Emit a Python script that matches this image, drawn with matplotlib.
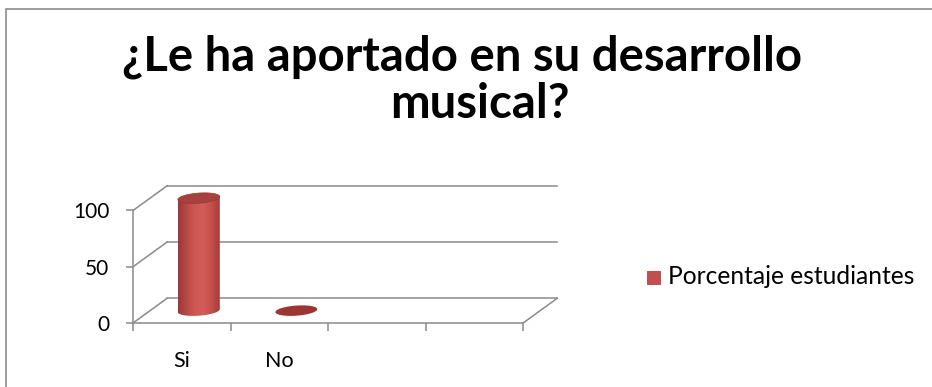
import numpy as np
import matplotlib
matplotlib.use("Agg")
import matplotlib.pyplot as plt
from matplotlib.patches import Polygon, Rectangle, PathPatch
from matplotlib.path import Path
from matplotlib.colors import LinearSegmentedColormap

# ---- data ----
categories = ["Si", "No", "", ""]
values = [100, 0, None, None]
series_name = "Porcentaje estudiantes"
yticks = [0, 50, 100]
title_lines = ["¿Le ha aportado en su desarrollo", "musical?"]

plt.rcParams["font.family"] = ["Lato", "DejaVu Sans"]

W, H = 932, 387
fig = plt.figure(figsize=(W / 100, H / 100), dpi=100)
fig.patch.set_facecolor("white")

# plot area: x 0..4 categories, y 0..100 plus room for the 3-D back wall
ax = fig.add_axes([133 / W, 64 / H, 434 / W, 146.25 / H])
ax.set_xlim(0, 4.45)
ax.set_ylim(0, 130)
ax.set_facecolor("none")

DX, DY = 0.35, 22.0          # depth offset of the back wall (data units)
grid_c = "#8a8a8a"
lw = 1.1

# back-wall gridlines and side-wall diagonals
n = len(categories)
for v in yticks:
    ax.plot([DX, n + DX], [v + DY, v + DY], color=grid_c, lw=lw, zorder=1)
    ax.plot([0, DX], [v, v + DY], color=grid_c, lw=lw, zorder=1)
ax.plot([n, n + DX], [0, DY], color=grid_c, lw=lw, zorder=1)

# axes styling
for s in ["top", "right"]:
    ax.spines[s].set_visible(False)
ax.spines["left"].set_bounds(0, max(yticks))
ax.spines["bottom"].set_bounds(0, n)
for s in ["left", "bottom"]:
    ax.spines[s].set_color(grid_c)
    ax.spines[s].set_linewidth(lw)

ax.set_yticks(yticks)
ax.set_yticklabels([str(t) for t in yticks], fontsize=15)
ax.tick_params(axis="y", length=5, width=lw, color=grid_c, pad=12)
ax.set_xticks(np.arange(n + 1))
ax.set_xticklabels([])
ax.tick_params(axis="x", which="major", length=6, width=lw, color=grid_c)
ax.set_xticks(np.arange(n) + 0.5, minor=True)
ax.set_xticklabels(categories, minor=True, fontsize=15.5)
ax.tick_params(axis="x", which="minor", length=0, pad=20)

# cylinders
body_cmap = LinearSegmentedColormap.from_list(
    "cyl", ["#98383a", "#b84845", "#cf5753", "#d25d59", "#c44f4b", "#a53c3a"])
cyl_w = 0.43
ell_h = 9.0
skew = 6.0      # slight tilt of the elliptical caps
base = DY / 2


def ellipse_pts(cx, cy, t):
    x = cx + cyl_w / 2 * np.cos(t)
    y = cy + ell_h / 2 * np.sin(t) + skew * (x - cx)
    return x, y


for i, v in enumerate(values):
    if v is None:
        continue
    cx = i + 0.5 + DX / 2
    top = base + v
    full = np.linspace(0, 2 * np.pi, 80)
    if v > 0:
        t = np.linspace(np.pi, 2 * np.pi, 40)
        bx, by = ellipse_pts(cx, base, t)
        tl = top - skew * cyl_w / 2
        tr = top + skew * cyl_w / 2
        verts = [(cx - cyl_w / 2, tl)] + list(zip(bx, by)) + [(cx + cyl_w / 2, tr), (cx - cyl_w / 2, tl)]
        codes = [Path.MOVETO] + [Path.LINETO] * (len(verts) - 2) + [Path.CLOSEPOLY]
        clip = PathPatch(Path(verts, codes), transform=ax.transData, fc="none", ec="none")
        ax.add_patch(clip)
        grad = np.linspace(0, 1, 128).reshape(1, -1)
        im = ax.imshow(grad, cmap=body_cmap, aspect="auto", interpolation="bilinear",
                       extent=(cx - cyl_w / 2, cx + cyl_w / 2, base - ell_h, top + ell_h), zorder=3)
        im.set_clip_path(clip)
        ex, ey = ellipse_pts(cx, top, full)
        ax.add_patch(Polygon(np.column_stack([ex, ey]), closed=True, fc="#a8403d",
                             ec="#9a3835", lw=0.5, zorder=4))
    else:
        ex, ey = ellipse_pts(cx, top, full)
        ax.add_patch(Polygon(np.column_stack([ex, ey]), closed=True, fc="#9c3533",
                             ec="none", zorder=4))

ax.set_xlim(0, 4.45)
ax.set_ylim(0, 130)

# title
fig.text(462 / W, 1 - 57 / H, title_lines[0], ha="center", va="center",
         fontsize=34, fontweight="bold")
fig.text(480 / W, 1 - 104 / H, title_lines[1], ha="center", va="center",
         fontsize=34, fontweight="bold")

# legend
fig.add_artist(Rectangle((647 / W, 1 - 285 / H), 14 / W, 14 / H, transform=fig.transFigure,
                         fc="#c0504d", ec="none"))
fig.text(668 / W, 1 - 277 / H, series_name, ha="left", va="center", fontsize=17.7)

# chart-area border
fig.add_artist(Rectangle((6 / W, -0.1), 1.2, (H - 9) / H + 0.1, transform=fig.transFigure,
                         fill=False, ec="#8c8c8c", lw=1.2))

fig.savefig("out.png", dpi=100, facecolor="white")
